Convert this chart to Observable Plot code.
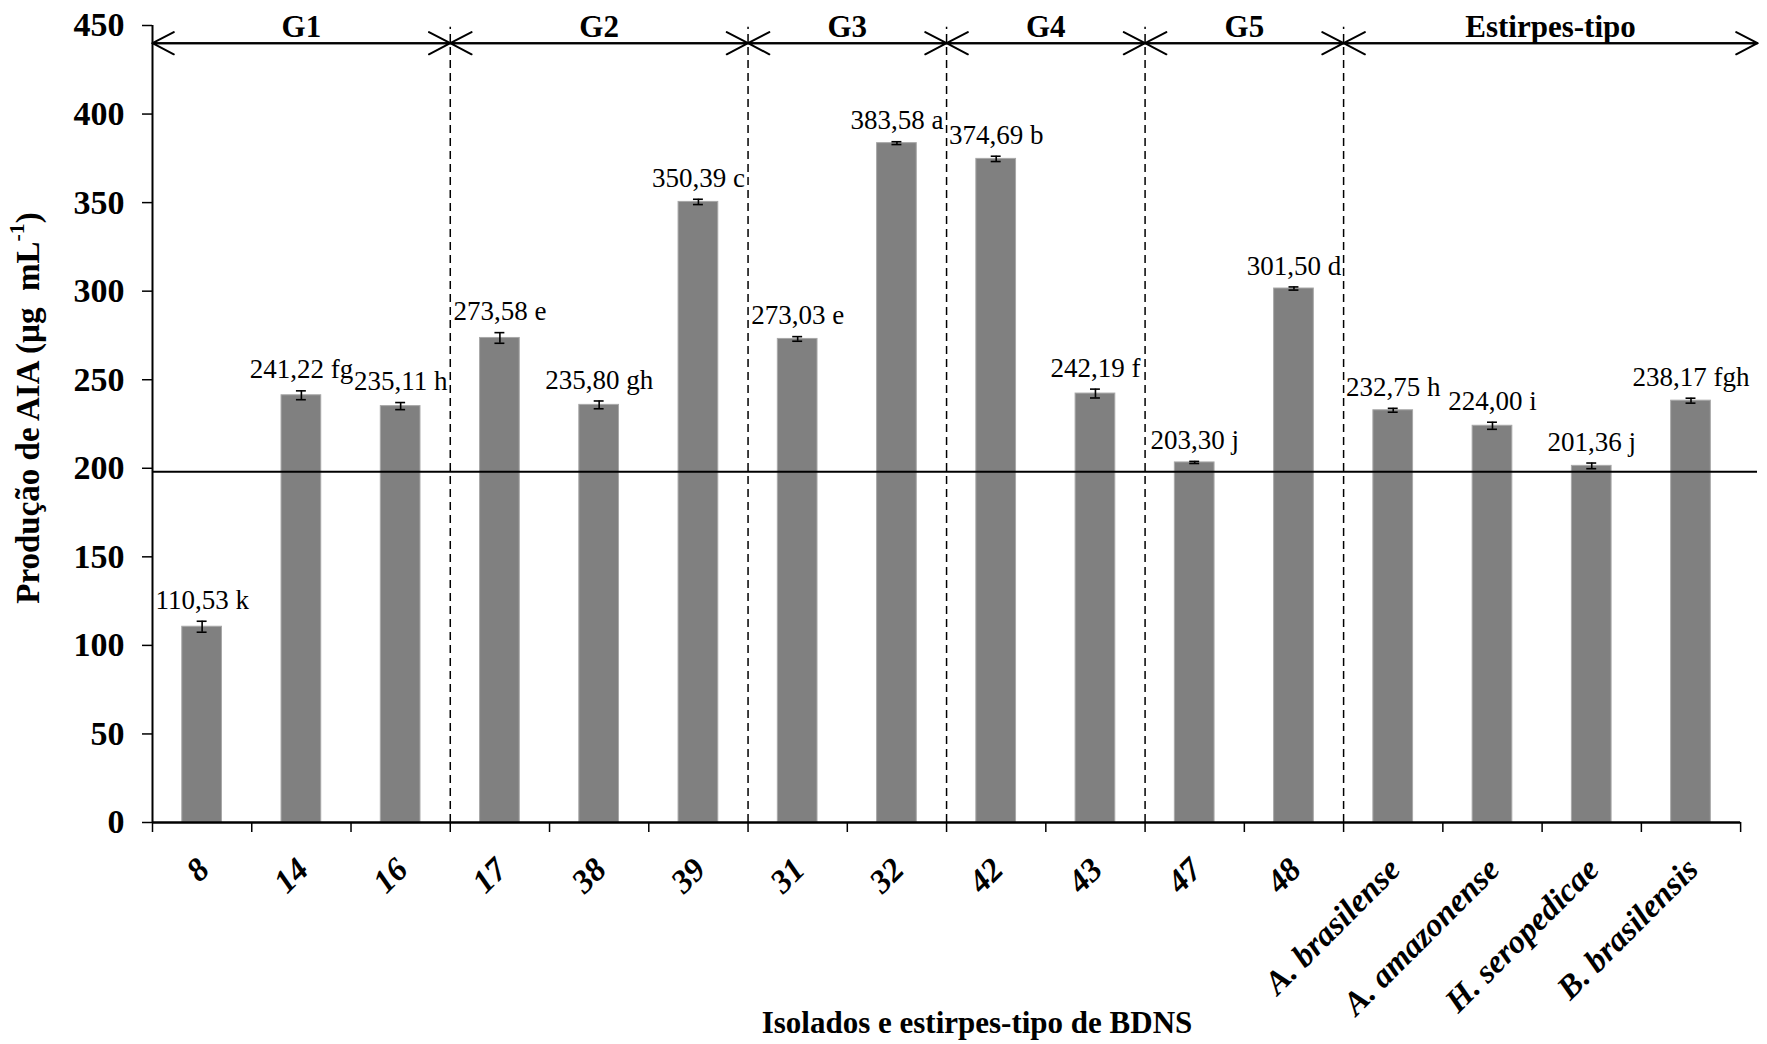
<!DOCTYPE html>
<html>
<head>
<meta charset="utf-8">
<script src="https://cdn.jsdelivr.net/npm/d3@7"></script>
<script src="https://cdn.jsdelivr.net/npm/@observablehq/plot@0.6"></script>
<style>
  html, body { margin: 0; padding: 0; background: #ffffff; }
  #chart svg { display: block; }
</style>
</head>
<body>
<div id="chart"></div>
<script>
// ---- Data ----
const categories = ["8", "14", "16", "17", "38", "39", "31", "32", "42", "43", "47", "48",
  "A. brasilense", "A. amazonense", "H. seropedicae", "B. brasilensis"];
const values = [110.53, 241.22, 235.11, 273.58, 235.80, 350.39, 273.03, 383.58,
  374.69, 242.19, 203.30, 301.50, 232.75, 224.00, 201.36, 238.17];
const errors = [3.1, 2.5, 2.0, 3.0, 2.2, 1.5, 1.3, 0.8, 1.5, 2.5, 0.6, 0.9, 1.1, 2.0, 1.6, 1.4];
const letters = ["k", "fg", "h", "e", "gh", "c", "e", "a", "b", "f", "j", "d", "h", "i", "j", "fgh"];
const groupNames = ["G1", "G2", "G3", "G4", "G5", "Estirpes-tipo"];
const groupSizes = [3, 3, 2, 2, 2, 4];
const yTicks = [0, 50, 100, 150, 200, 250, 300, 350, 400, 450];
const threshold = 198;
const yTitle = "Produção de AIA (µg\u00A0 mL";
const yTitleSup = "-1";
const xTitle = "Isolados e estirpes-tipo de BDNS";

// ---- Derived tables ----
const n = categories.length;
const xMax = n + 0.17;            // frame extends slightly past the last category
const rows = categories.map((name, i) => ({
  name, i, value: values[i], err: errors[i],
  label: values[i].toFixed(2).replace(".", ",") + " " + letters[i]
}));
let acc = 0;
const groups = groupNames.map((name, k) => {
  const start = acc; acc += groupSizes[k];
  return {name, start, end: acc};
});
groups[groups.length - 1].end = xMax;
const boundaries = d3.range(0, n + 1);
const separators = groups.slice(1).map(g => g.start);

const serif = "'Liberation Serif', 'Times New Roman', serif";

const chart = Plot.plot({
  width: 1767,
  height: 1044,
  marginLeft: 152,
  marginRight: 10,
  marginTop: 25,
  marginBottom: 222,
  x: {domain: [0, xMax], axis: null},
  y: {domain: [0, 450], axis: null},
  style: {fontFamily: serif, color: "black", background: "white", overflow: "visible"},
  marks: [
    // bars
    Plot.rectY(rows, {
      x1: d => d.i + 0.3, x2: d => d.i + 0.7, y1: 0, y2: "value",
      fill: "#808080", stroke: "#a8a8a8", strokeWidth: 1
    }),
    // group separators
    Plot.ruleX(separators, {y1: 0, y2: 449, stroke: "black", strokeWidth: 1.5, strokeDasharray: "8,5"}),
    // reference line
    Plot.ruleY([threshold], {stroke: "black", strokeWidth: 2}),
    // error bars
    Plot.ruleX(rows, {x: d => d.i + 0.5, y1: d => d.value - d.err, y2: d => d.value + d.err, stroke: "black", strokeWidth: 1.6}),
    Plot.ruleY(rows, {y: d => d.value + d.err, x1: d => d.i + 0.45, x2: d => d.i + 0.55, stroke: "black", strokeWidth: 1.6}),
    Plot.ruleY(rows, {y: d => d.value - d.err, x1: d => d.i + 0.45, x2: d => d.i + 0.55, stroke: "black", strokeWidth: 1.6}),
    // value labels
    Plot.text(rows, {
      x: d => d.i + 0.5, y: d => d.value + d.err, text: "label", dy: -21,
      fontSize: 27, fill: "black", fontFamily: serif
    }),
    // axes
    Plot.ruleX([0], {y1: 0, y2: 450, stroke: "black", strokeWidth: 2}),
    Plot.ruleY([0], {x1: 0, x2: n, stroke: "black", strokeWidth: 2.5}),
    Plot.axisY({ticks: yTicks, label: null, tickSize: 10, tickPadding: 18, strokeWidth: 1.5,
      fontSize: 34, fontWeight: "bold", fontFamily: serif, fill: "black"}),
    Plot.axisX({ticks: boundaries, label: null, tickSize: 10, strokeWidth: 1.5, tickFormat: () => ""}),
    // category labels
    Plot.text(rows, {
      x: d => d.i + 0.5, text: "name", frameAnchor: "bottom", dy: 49, dx: 9,
      rotate: -45, textAnchor: "end", fontSize: 33, fontWeight: "bold", fontStyle: "italic",
      fill: "black", fontFamily: serif
    }),
    // group arrows (double-headed)
    Plot.arrow(groups, {x1: "start", x2: "end", y1: 440, y2: 440, bend: 0, headLength: 18, headAngle: 55, stroke: "black", strokeWidth: 2}),
    Plot.arrow(groups, {x1: "end", x2: "start", y1: 440, y2: 440, bend: 0, headLength: 18, headAngle: 55, stroke: "black", strokeWidth: 2}),
    // group names
    Plot.text(groups, {
      x: d => (d.start + d.end) / 2, y: 450, dy: 2, text: "name",
      fontSize: 31, fontWeight: "bold", fill: "black", fontFamily: serif
    }),
    // x title
    Plot.text([xTitle], {
      frameAnchor: "bottom", dy: 210, dx: 22, fontSize: 31, fontWeight: "bold", fill: "black", fontFamily: serif
    })
  ]
});

// y title with superscript
const svg = d3.select(chart);
const t = svg.append("text")
  .attr("transform", "translate(31,408) rotate(-90)")
  .attr("text-anchor", "middle")
  .attr("dominant-baseline", "middle")
  .attr("font-family", serif)
  .attr("font-size", 33)
  .attr("font-weight", "bold")
  .attr("fill", "black")
  .style("white-space", "pre");
t.append("tspan").text(yTitle);
t.append("tspan").attr("dy", -12).attr("font-size", 22).text(yTitleSup);
t.append("tspan").attr("dy", 12).text(")");

document.getElementById("chart").appendChild(chart);
</script>
</body>
</html>
